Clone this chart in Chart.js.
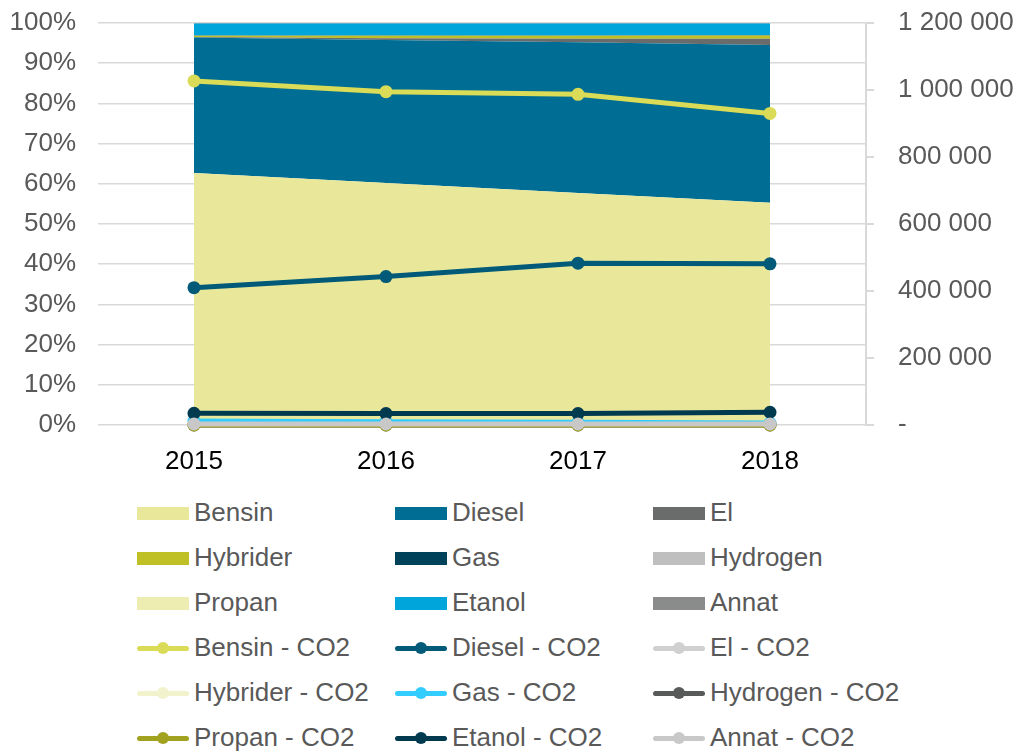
<!DOCTYPE html>
<html lang="no">
<head>
<meta charset="utf-8">
<title>Personbiler etter drivstoff og CO2</title>
<script src="https://cdn.jsdelivr.net/npm/chart.js@4.4.1/dist/chart.umd.min.js"></script>
<style>
    html, body { margin: 0; padding: 0; background: #fff; }
    #wrap { position: relative; width: 1023px; height: 753px; font-family: "Liberation Sans", Arial, sans-serif; }
    #chartBox { position: absolute; left: 0; top: 0; width: 1023px; height: 480px; }
    #legend { position: absolute; left: 137px; top: 490px; display: grid; grid-template-columns: 258px 258px 258px; grid-auto-rows: 45px; }
    .item { display: flex; align-items: center; font-size: 26px; color: #595959; white-space: nowrap; }
    .swatch { position: relative; flex: none; width: 52px; height: 14px; margin-right: 5px; }
    .swatch.box span { position: absolute; left: 0; top: 1px; width: 52px; height: 13px; }
    .swatch.line i { position: absolute; left: 0; top: 5px; width: 52px; height: 5px; border-radius: 3px; }
    .swatch.line b { position: absolute; left: 20px; top: 1px; width: 12px; height: 12px; border-radius: 50%; }
</style>
</head>
<body>
<div id="wrap">
    <div id="chartBox"><canvas id="fuelChart"></canvas></div>
    <div id="legend"></div>
</div>
<script>
// kategorier
var years = ['2015', '2016', '2017', '2018'];

// andel av bilparken (%), stablet til 100 %
var bensin   = [62.7, 60.2, 57.7, 55.3];
var diesel   = [33.7, 35.6, 37.5, 39.2];
var el       = [0.1, 0.4, 0.9, 1.6];
var hybrider = [0.3, 0.6, 0.7, 0.8];
var gas      = [0.1, 0.1, 0.1, 0.1];
var hydrogen = [0, 0, 0, 0];
var propan   = [0, 0, 0, 0];
var etanol   = [3.0, 3.0, 3.0, 2.9];
var annat    = [0.1, 0.1, 0.1, 0.1];

// CO2-utslipp (høyre akse)
var bensinCo2   = [1027000, 995000, 987000, 930000];
var dieselCo2   = [410000, 443000, 483000, 481000];
var elCo2       = [0, 0, 0, 0];
var hybriderCo2 = [0, 0, 0, 0];
var gasCo2      = [12000, 10000, 8000, 6000];
var hydrogenCo2 = [0, 0, 0, 0];
var propanCo2   = [0, 0, 0, 0];
var etanolCo2   = [35000, 34000, 34000, 38000];
var annatCo2    = [3000, 3000, 3000, 3000];

// aksetikker
var pctTicks = [0, 10, 20, 30, 40, 50, 60, 70, 80, 90, 100];
var co2Ticks = [0, 200000, 400000, 600000, 800000, 1000000, 1200000];

(function (window, document) {
    'use strict';

    var areas = [
        { label: 'Bensin', data: bensin, color: '#E9E89A' },
        { label: 'Diesel', data: diesel, color: '#006E94' },
        { label: 'El', data: el, color: '#6A6C6C' },
        { label: 'Hybrider', data: hybrider, color: '#BFBF26' },
        { label: 'Gas', data: gas, color: '#004259' },
        { label: 'Hydrogen', data: hydrogen, color: '#BFBFBF' },
        { label: 'Propan', data: propan, color: '#EEEDB1' },
        { label: 'Etanol', data: etanol, color: '#00A5DC' },
        { label: 'Annat', data: annat, color: '#8A8C8C' }
    ];

    var lines = [
        { label: 'Bensin - CO2', data: bensinCo2, color: '#DADB56' },
        { label: 'Diesel - CO2', data: dieselCo2, color: '#005A78' },
        { label: 'El - CO2', data: elCo2, color: '#D0D0D0' },
        { label: 'Hybrider - CO2', data: hybriderCo2, color: '#F2F2CC' },
        { label: 'Gas - CO2', data: gasCo2, color: '#33CCFF' },
        { label: 'Hydrogen - CO2', data: hydrogenCo2, color: '#585A5A' },
        { label: 'Propan - CO2', data: propanCo2, color: '#A2A221' },
        { label: 'Etanol - CO2', data: etanolCo2, color: '#003A4F' },
        { label: 'Annat - CO2', data: annatCo2, color: '#C8C8C8' }
    ];

    var datasets = [];

    areas.forEach(function (a, i) {
        datasets.push({
            type: 'line',
            label: a.label,
            data: a.data,
            yAxisID: 'y',
            order: 100,
            fill: i === 0 ? 'origin' : '-1',
            backgroundColor: a.color,
            borderColor: a.color,
            borderWidth: 0,
            pointRadius: 0,
            tension: 0,
            legendKind: 'box'
        });
    });

    lines.forEach(function (l, i) {
        datasets.push({
            type: 'line',
            label: l.label,
            data: l.data,
            yAxisID: 'y2',
            order: lines.length - i,
            fill: false,
            clip: false,
            borderColor: l.color,
            backgroundColor: l.color,
            borderWidth: 5,
            pointRadius: 6.5,
            pointBorderWidth: 0,
            pointBackgroundColor: l.color,
            tension: 0,
            legendKind: 'line'
        });
    });

    function spaced(v) {
        if (v === 0) return '-';
        return String(v).replace(/\B(?=(\d{3})+(?!\d))/g, ' ');
    }

    // fast bredde og ingen ekstra luft over/under plottet
    function fixWidth(w) {
        return function (scale) {
            scale.width = w;
            scale.paddingTop = 0;
            scale.paddingBottom = 0;
        };
    }

    Chart.defaults.font.family = '"Liberation Sans", Arial, sans-serif';
    Chart.defaults.font.size = 26;
    Chart.defaults.color = '#595959';

    var chart = new Chart(document.getElementById('fuelChart').getContext('2d'), {
        type: 'line',
        data: { labels: years, datasets: datasets },
        options: {
            responsive: true,
            maintainAspectRatio: false,
            animation: false,
            layout: { padding: { top: 23, left: 0, right: 0, bottom: 0 } },
            plugins: {
                legend: { display: false },
                tooltip: { enabled: false }
            },
            scales: {
                x: {
                    offset: true,
                    grid: { display: false },
                    border: { display: false },
                    ticks: { color: '#000000', padding: 13 },
                    afterFit: function (scale) { scale.height = 55; }
                },
                y: {
                    position: 'left',
                    stacked: true,
                    min: 0,
                    max: 100,
                    afterBuildTicks: function (scale) {
                        scale.ticks = pctTicks.map(function (v) { return { value: v }; });
                    },
                    ticks: {
                        padding: 22,
                        callback: function (v) { return v + '%'; }
                    },
                    grid: { color: '#D9D9D9', lineWidth: 1.5, drawTicks: false },
                    border: { display: false },
                    afterFit: fixWidth(98)
                },
                y2: {
                    position: 'right',
                    min: 0,
                    max: 1200000,
                    afterBuildTicks: function (scale) {
                        scale.ticks = co2Ticks.map(function (v) { return { value: v }; });
                    },
                    ticks: {
                        padding: 24,
                        callback: function (v) { return spaced(v); }
                    },
                    grid: { drawOnChartArea: false, drawTicks: true, tickLength: 8, color: '#D9D9D9', lineWidth: 2 },
                    border: { display: true, color: '#D9D9D9', width: 2 },
                    afterFit: fixWidth(157)
                }
            }
        }
    });

    // legende i tre kolonner, bygget fra datasettene
    var legend = document.getElementById('legend');
    chart.data.datasets.forEach(function (ds) {
        var item = document.createElement('div');
        item.className = 'item';
        var sw = document.createElement('span');
        if (ds.legendKind === 'box') {
            sw.className = 'swatch box';
            sw.innerHTML = '<span style="background:' + ds.backgroundColor + '"></span>';
        } else {
            sw.className = 'swatch line';
            sw.innerHTML = '<i style="background:' + ds.borderColor + '"></i><b style="background:' + ds.borderColor + '"></b>';
        }
        var txt = document.createElement('span');
        txt.textContent = ds.label;
        item.appendChild(sw);
        item.appendChild(txt);
        legend.appendChild(item);
    });

})(window, document);
</script>
</body>
</html>
